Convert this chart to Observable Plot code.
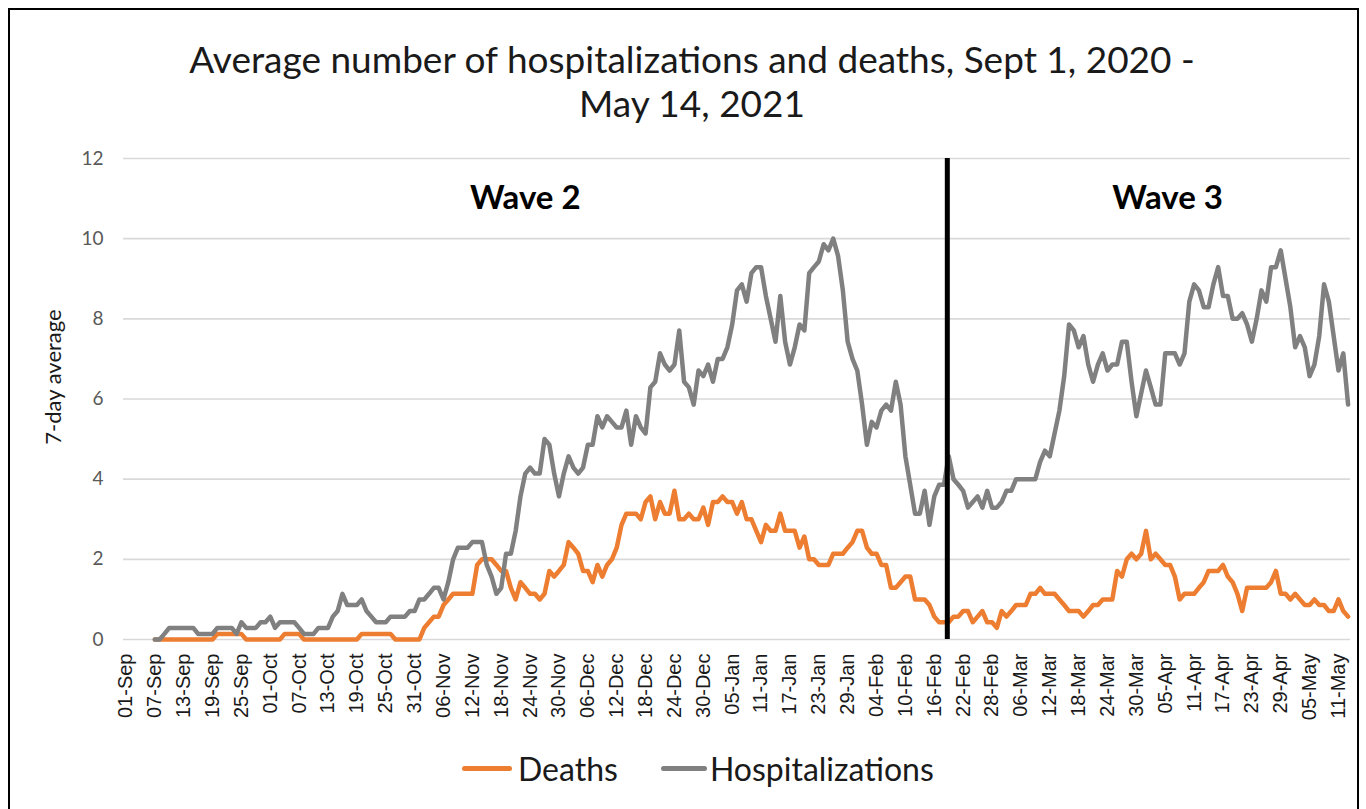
<!DOCTYPE html>
<html><head><meta charset="utf-8">
<script src="https://cdn.jsdelivr.net/npm/d3@7"></script>
<script src="https://cdn.jsdelivr.net/npm/@observablehq/plot@0.6"></script>
<style>
html,body{margin:0;padding:0;background:#fff;width:1366px;height:809px;overflow:hidden;}
#frame{position:absolute;left:8px;top:8px;width:1351px;height:900px;border:2px solid #000;box-sizing:border-box;}
#title{position:absolute;left:0;top:37px;width:1384px;text-align:center;font-family:Lato,sans-serif;font-weight:400;font-size:37px;line-height:44px;color:#1a1a1a;}
#chart{position:absolute;left:0;top:140px;}
#legend{position:absolute;top:748px;left:462px;height:40px;display:flex;align-items:center;font-family:Lato,sans-serif;font-size:32px;color:#1a1a1a;white-space:nowrap;}
.sw{display:inline-block;height:5px;border-radius:3px;}
</style></head>
<body>
<div id="frame"></div>
<div id="title">Average number of hospitalizations and deaths, Sept 1, 2020 -<br>May 14, 2021</div>
<div id="chart"></div>
<div id="legend"></div>
<script>
// ---- data ----
const axisStart = "2020-09-01";
const axisEnd = "2021-05-13";
const firstDataDate = "2020-09-07";
const seriesNames = ["Deaths", "Hospitalizations"];
const seriesColors = ["#ED7D31", "#808080"];
const hospitalizations = [
  0, 0, 0.14, 0.29, 0.29, 0.29, 0.29, 0.29, 0.29, 0.14,
  0.14, 0.14, 0.14, 0.29, 0.29, 0.29, 0.29, 0.14, 0.43, 0.29,
  0.29, 0.29, 0.43, 0.43, 0.57, 0.29, 0.43, 0.43, 0.43, 0.43,
  0.29, 0.14, 0.14, 0.14, 0.29, 0.29, 0.29, 0.57, 0.71, 1.14,
  0.86, 0.86, 0.86, 1.0, 0.71, 0.57, 0.43, 0.43, 0.43, 0.57,
  0.57, 0.57, 0.57, 0.71, 0.71, 1.0, 1.0, 1.14, 1.29, 1.29,
  1.0, 1.43, 2.0, 2.29, 2.29, 2.29, 2.43, 2.43, 2.43, 1.86,
  1.57, 1.14, 1.29, 2.14, 2.14, 2.71, 3.57, 4.14, 4.29, 4.14,
  4.14, 5.0, 4.86, 4.14, 3.57, 4.14, 4.57, 4.29, 4.14, 4.29,
  4.86, 4.86, 5.57, 5.29, 5.57, 5.43, 5.29, 5.29, 5.71, 4.86,
  5.57, 5.29, 5.14, 6.29, 6.43, 7.14, 6.86, 6.71, 6.86, 7.71,
  6.43, 6.29, 5.86, 6.71, 6.57, 6.86, 6.43, 7.0, 7.0, 7.29,
  7.86, 8.71, 8.86, 8.43, 9.14, 9.29, 9.29, 8.57, 8.0, 7.43,
  8.57, 7.43, 6.86, 7.29, 7.86, 7.71, 9.14, 9.29, 9.43, 9.86,
  9.71, 10.0, 9.57, 8.71, 7.43, 7.0, 6.71, 5.86, 4.86, 5.43,
  5.29, 5.71, 5.86, 5.71, 6.43, 5.86, 4.57, 3.86, 3.14, 3.14,
  3.71, 2.86, 3.57, 3.86, 3.86, 4.57, 4.0, 3.86, 3.71, 3.29,
  3.43, 3.57, 3.29, 3.71, 3.29, 3.29, 3.43, 3.71, 3.71, 4.0,
  4.0, 4.0, 4.0, 4.0, 4.43, 4.71, 4.57, 5.14, 5.71, 6.57,
  7.86, 7.71, 7.29, 7.57, 6.86, 6.43, 6.86, 7.14, 6.71, 6.86,
  6.86, 7.43, 7.43, 6.43, 5.57, 6.14, 6.71, 6.29, 5.86, 5.86,
  7.14, 7.14, 7.14, 6.86, 7.14, 8.43, 8.86, 8.71, 8.29, 8.29,
  8.86, 9.29, 8.57, 8.57, 8.0, 8.0, 8.14, 7.86, 7.43, 8.0,
  8.71, 8.43, 9.29, 9.29, 9.71, 9.0, 8.29, 7.29, 7.57, 7.29,
  6.57, 6.86, 7.57, 8.86, 8.43, 7.57, 6.71, 7.14, 5.86
];
const deaths = [
  0, 0, 0, 0, 0, 0, 0, 0, 0, 0,
  0, 0, 0, 0.14, 0.14, 0.14, 0.14, 0.14, 0.14, 0,
  0, 0, 0, 0, 0, 0, 0, 0.14, 0.14, 0.14,
  0.14, 0, 0, 0, 0, 0, 0, 0, 0, 0,
  0, 0, 0, 0.14, 0.14, 0.14, 0.14, 0.14, 0.14, 0.14,
  0, 0, 0, 0, 0, 0, 0.29, 0.43, 0.57, 0.57,
  0.86, 1.0, 1.14, 1.14, 1.14, 1.14, 1.14, 1.86, 2.0, 2.0,
  2.0, 1.86, 1.71, 1.71, 1.29, 1.0, 1.43, 1.29, 1.14, 1.14,
  1.0, 1.14, 1.71, 1.57, 1.71, 1.86, 2.43, 2.29, 2.14, 1.71,
  1.71, 1.43, 1.86, 1.57, 1.86, 2.0, 2.29, 2.86, 3.14, 3.14,
  3.14, 3.0, 3.43, 3.57, 3.0, 3.43, 3.14, 3.14, 3.71, 3.0,
  3.0, 3.14, 3.0, 3.0, 3.29, 2.86, 3.43, 3.43, 3.57, 3.43,
  3.43, 3.14, 3.43, 3.0, 3.0, 2.71, 2.43, 2.86, 2.71, 2.71,
  3.14, 2.71, 2.71, 2.71, 2.29, 2.57, 2.0, 2.0, 1.86, 1.86,
  1.86, 2.14, 2.14, 2.14, 2.29, 2.43, 2.71, 2.71, 2.29, 2.14,
  2.14, 1.86, 1.86, 1.29, 1.29, 1.43, 1.57, 1.57, 1.0, 1.0,
  1.0, 0.86, 0.57, 0.43, 0.43, 0.43, 0.57, 0.57, 0.71, 0.71,
  0.43, 0.57, 0.71, 0.43, 0.43, 0.29, 0.71, 0.57, 0.71, 0.86,
  0.86, 0.86, 1.14, 1.14, 1.29, 1.14, 1.14, 1.14, 1.0, 0.86,
  0.71, 0.71, 0.71, 0.57, 0.71, 0.86, 0.86, 1.0, 1.0, 1.0,
  1.71, 1.57, 2.0, 2.14, 2.0, 2.14, 2.71, 2.0, 2.14, 2.0,
  1.86, 1.86, 1.57, 1.0, 1.14, 1.14, 1.14, 1.29, 1.43, 1.71,
  1.71, 1.71, 1.86, 1.57, 1.43, 1.14, 0.71, 1.29, 1.29, 1.29,
  1.29, 1.29, 1.43, 1.71, 1.14, 1.14, 1.0, 1.14, 1.0, 0.86,
  0.86, 1.0, 0.86, 0.86, 0.71, 0.71, 1.0, 0.71, 0.57
];
const tickLabels = ["01-Sep","07-Sep","13-Sep","19-Sep","25-Sep","01-Oct","07-Oct","13-Oct","19-Oct","25-Oct","31-Oct",
  "06-Nov","12-Nov","18-Nov","24-Nov","30-Nov","06-Dec","12-Dec","18-Dec","24-Dec","30-Dec",
  "05-Jan","11-Jan","17-Jan","23-Jan","29-Jan","04-Feb","10-Feb","16-Feb","22-Feb","28-Feb",
  "06-Mar","12-Mar","18-Mar","24-Mar","30-Mar","05-Apr","11-Apr","17-Apr","23-Apr","29-Apr","05-May","11-May"];
const yTicks = [0, 2, 4, 6, 8, 10, 12];
const yLabel = "7-day average";
const waveNames = ["Wave 2", "Wave 3"];
const waveLabelDates = ["2020-11-23", "2021-04-05T12:00"];
const waveLabelLevel = 11;
const waveBoundary = "2021-02-18T17:00";

// ---- build ----
const parseDay = s => new Date(s + (s.length > 10 ? ":00Z" : "T00:00Z"));
const t0 = parseDay(firstDataDate);
const dStart = parseDay(axisStart), dEnd = parseDay(axisEnd);
const half = 12 * 3600 * 1000;
const toRows = arr => arr.map((v, i) => ({date: d3.utcDay.offset(t0, i), value: v}));
const deathRows = toRows(deaths);
const hospRows = toRows(hospitalizations);
const tickDates = tickLabels.map((_, i) => d3.utcDay.offset(dStart, 6 * i));
const labelMap = new Map(tickDates.map((d, i) => [+d, tickLabels[i]]));
const waves = waveNames.map((n, i) => ({text: n, date: parseDay(waveLabelDates[i]), y: waveLabelLevel}));

const chart = Plot.plot({
  width: 1366,
  height: 600,
  marginLeft: 123,
  marginRight: 16,
  marginTop: 18,
  marginBottom: 101,
  style: {fontFamily: "'Liberation Sans', Arial, sans-serif", background: "transparent", overflow: "visible"},
  x: {type: "utc", domain: [new Date(+dStart - half), new Date(+dEnd + half)]},
  y: {domain: [0, 12]},
  marks: [
    Plot.gridY(yTicks, {stroke: "#d9d9d9", strokeOpacity: 1, strokeWidth: 1.6}),
    Plot.axisY(yTicks, {tickSize: 0, tickPadding: 20, fontSize: 19, fontFamily: "Lato, sans-serif", fill: "#595959", label: null}),
    Plot.axisX(tickDates, {tickSize: 0, tickPadding: 14, tickRotate: -90, fontSize: 20, fill: "#1a1a1a",
      tickFormat: d => labelMap.get(+d), label: null}),
    Plot.lineY(deathRows, {x: "date", y: "value", stroke: seriesColors[0], strokeWidth: 4.5, strokeLinejoin: "round", strokeLinecap: "round"}),
    Plot.lineY(hospRows, {x: "date", y: "value", stroke: seriesColors[1], strokeWidth: 4.5, strokeLinejoin: "round", strokeLinecap: "round"}),
    Plot.ruleX([parseDay(waveBoundary)], {y1: 0, y2: 12, stroke: "#000", strokeWidth: 5}),
    Plot.text(waves, {x: "date", y: "y", text: "text", fontSize: 33, fontWeight: "bold", fontFamily: "Lato, sans-serif", fill: "#000"})
  ]
});
document.getElementById("chart").appendChild(chart);

d3.select(chart).append("text")
  .attr("transform", `translate(52, ${377 - 140}) rotate(-90)`)
  .attr("text-anchor", "middle")
  .attr("dominant-baseline", "central")
  .style("font-family", "Lato, sans-serif")
  .style("font-size", "22px")
  .attr("fill", "#1a1a1a")
  .text(yLabel);

// legend
const legend = d3.select("#legend");
const swWidths = [50, 46];
const gaps = [0, 43];
seriesNames.forEach((name, i) => {
  legend.append("span").attr("class", "sw")
    .style("background", seriesColors[i]).style("width", swWidths[i] + "px")
    .style("margin-left", gaps[i] + "px").style("margin-right", (i ? 3 : 6) + "px");
  legend.append("span").text(name);
});
</script>
</body></html>
